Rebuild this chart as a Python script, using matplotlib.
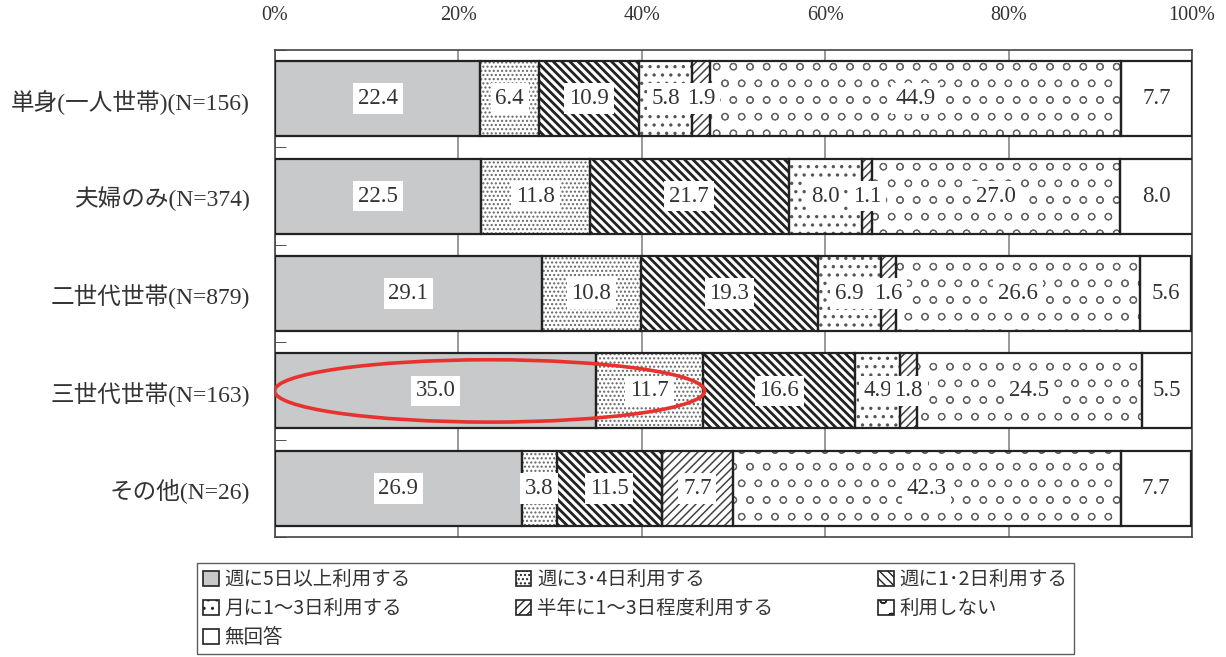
import matplotlib
matplotlib.use("Agg")
import matplotlib.pyplot as plt
from matplotlib.patches import Ellipse, Patch
import numpy as np

plt.rcParams['font.family'] = ['Liberation Serif', 'Noto Sans CJK JP']

categories = ['単身(一人世帯)(N=156)', '夫婦のみ(N=374)', '二世代世帯(N=879)',
              '三世代世帯(N=163)', 'その他(N=26)']
series_names = ['週に5日以上利用する', '週に3･4日利用する', '週に1･2日利用する',
                '月に1～3日利用する', '半年に1～3日程度利用する', '利用しない', '無回答']
values = [
    [22.4, 22.5, 29.1, 35.0, 26.9],   # 週に5日以上
    [6.4, 11.8, 10.8, 11.7, 3.8],     # 週に3・4日
    [10.9, 21.7, 19.3, 16.6, 11.5],   # 週に1・2日
    [5.8, 8.0, 6.9, 4.9, 0.0],        # 月に1～3日
    [1.9, 1.1, 1.6, 1.8, 7.7],        # 半年に1～3日
    [44.9, 27.0, 26.6, 24.5, 42.3],   # 利用しない
    [7.7, 8.0, 5.6, 5.5, 7.7],        # 無回答
]
xticklabels = ['0%', '20%', '40%', '60%', '80%', '100%']

# estilo de cada serie
fills = ['#c8c9cb', 'white', 'white', 'white', 'white', 'white', 'white']
hatches = [None, '....', '\\\\\\\\', '..', '////', 'o', None]
hatch_colors = ['#222222', '#666666', '#222222', '#555555', '#444444', '#666666', '#222222']
hatch_lws = [1.0, 1.0, 2.0, 1.2, 1.1, 0.8, 1.0]

fig = plt.figure(figsize=(12.26, 6.57), dpi=100)
ax = fig.add_axes([0.2243, 0.1826, 0.748, 0.7413])

y = np.arange(len(categories))
left = np.zeros(len(categories))
for i, vals in enumerate(values):
    vals = np.array(vals)
    with plt.rc_context({'hatch.linewidth': hatch_lws[i]}):
        ax.barh(y, vals, left=left, height=0.77, color=fills[i],
                edgecolor=hatch_colors[i], linewidth=0, hatch=hatches[i], zorder=2)
    bars = ax.barh(y, vals, left=left, height=0.77, fill=False,
                   edgecolor='#222222', linewidth=1.6, zorder=3)
    for b, v in zip(bars, vals):
        if v > 0:
            ax.text(b.get_x() + b.get_width() / 2, b.get_y() + b.get_height() / 2,
                    f'{v:.1f}', ha='center', va='center', fontsize=16.5,
                    color='#333333', zorder=4,
                    bbox=dict(facecolor='white', edgecolor='none', pad=3.5))
    left += vals

ax.set_xlim(0, 100)
ax.set_ylim(4.5, -0.5)
ax.set_yticks(y)
ax.set_yticklabels(categories, fontsize=17, color='#333333')
ax.set_yticks(np.arange(-0.5, 5.0, 1.0), minor=True)
ax.tick_params(axis='y', which='major', length=0, pad=18)
ax.tick_params(axis='y', which='minor', direction='in', length=8, color='#333333')
ax.xaxis.tick_top()
ax.set_xticks([0, 20, 40, 60, 80, 100])
ax.set_xticklabels(xticklabels, fontsize=14.5, color='#333333')
ax.tick_params(axis='x', length=0, pad=18)
ax.grid(axis='x', color='#888888', linewidth=1.2, zorder=0)
ax.set_axisbelow(True)
for s in ax.spines.values():
    s.set_color('#444444')
    s.set_linewidth(1.2)

# marca roja
ell = Ellipse((23.4, 3.0), 46.9, 0.64, fill=False, edgecolor='#e8322e',
              linewidth=2.6, zorder=5)
ax.add_patch(ell)

handles = []
for i in range(len(series_names)):
    with plt.rc_context({'hatch.linewidth': min(hatch_lws[i], 1.2)}):
        handles.append(Patch(facecolor=fills[i], edgecolor='#222222',
                             hatch=hatches[i], linewidth=1.2))
# orden por filas como en el original
order = [0, 3, 6, 1, 4, 2, 5]
leg = fig.legend([handles[k] for k in order], [series_names[k] for k in order],
                 ncol=3, loc='upper left', borderaxespad=0,
                 bbox_to_anchor=(0.1607, 0.143), frameon=True,
                 fancybox=False, edgecolor='#333333', handlelength=0.8,
                 handleheight=0.8, handletextpad=0.3, columnspacing=5.4,
                 labelspacing=0.4, borderpad=0.32,
                 prop={'family': ['Noto Sans CJK JP'], 'size': 14})
leg.get_frame().set_linewidth(1.0)
for t in leg.get_texts():
    t.set_color('#333333')

fig.savefig('out.png', dpi=100)
